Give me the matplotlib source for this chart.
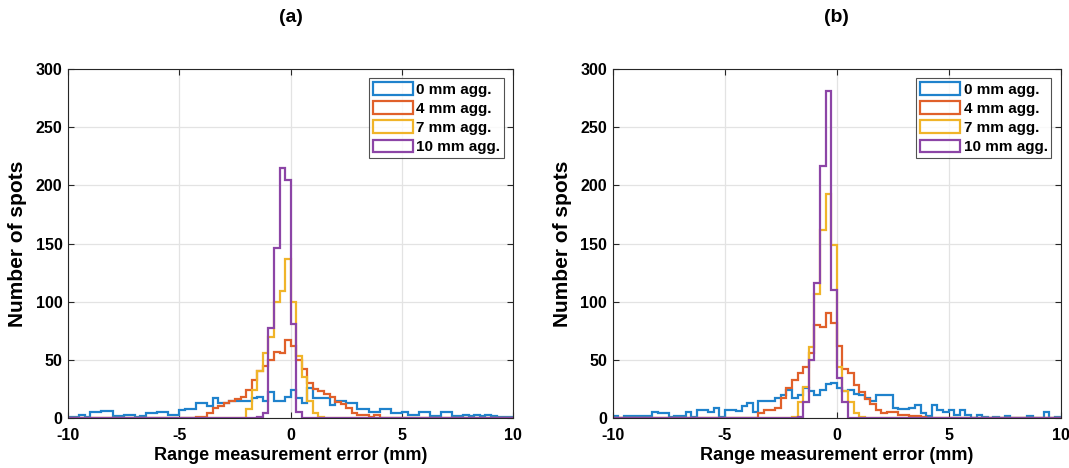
import numpy as np
import matplotlib
matplotlib.use("Agg")
from matplotlib import pyplot as plt

# bin edges: -10 .. 10 mm, 0.25 mm wide (80 bins)
edges = np.arange(-10, 10.001, 0.25)
labels = ['0 mm agg.', '4 mm agg.', '7 mm agg.', '10 mm agg.']
colors = ['#1f82cc', '#e0602a', '#f0b429', '#8c45a6']

# panel (a) counts, 8 bins (2 mm) per row
a_0mm = [1, 1, 3, 1, 5, 5, 6, 6,
         2, 2, 3, 3, 1, 2, 4, 4,
         5, 5, 3, 3, 7, 8, 8, 13,
         13, 10, 17, 13, 13, 15, 15, 15,
         15, 17, 18, 15, 22, 15, 15, 18,
         24, 17, 13, 26, 17, 17, 17, 11,
         15, 15, 13, 13, 8, 8, 5, 5,
         8, 8, 4, 4, 5, 3, 3, 5,
         5, 2, 2, 5, 5, 2, 2, 3,
         2, 3, 2, 3, 2, 1, 1, 1]
a_4mm = [0, 0, 0, 0, 0, 0, 0, 0,
         0, 0, 0, 0, 0, 0, 0, 0,
         0, 0, 0, 0, 0, 0, 0, 1,
         1, 4, 9, 10, 13, 15, 16, 18,
         24, 33, 40, 45, 50, 57, 56, 67,
         62, 50, 42, 30, 25, 23, 21, 18,
         14, 12, 9, 4, 3, 3, 1, 3,
         0, 0, 0, 0, 0, 0, 0, 0,
         0, 0, 0, 0, 0, 0, 0, 0,
         0, 0, 0, 0, 0, 0, 0, 0]
a_7mm = [0] * 32 + [8, 24, 40, 56, 70, 100, 109, 137,
                    100, 53, 35, 15, 4, 1, 0, 0] + [0] * 32
a_10mm = [0] * 32 + [0, 0, 1, 4, 77, 146, 215, 205,
                     81, 5, 0, 0, 0, 0, 0, 0] + [0] * 32

# panel (b) counts
b_0mm = [2, 0, 2, 2, 2, 2, 2, 5,
         4, 4, 1, 2, 2, 5, 1, 7,
         7, 5, 9, 1, 7, 7, 6, 10,
         13, 5, 15, 15, 15, 17, 20, 24,
         17, 20, 26, 23, 20, 24, 29, 30,
         26, 23, 24, 21, 20, 17, 15, 20,
         20, 20, 9, 8, 8, 9, 11, 4,
         2, 11, 7, 5, 7, 3, 7, 3,
         0, 3, 1, 0, 1, 0, 2, 0,
         0, 0, 2, 0, 0, 5, 0, 1]
b_4mm = [0] * 24 + [0, 0, 4, 7, 7, 9, 17, 26,
                    33, 39, 44, 56, 80, 78, 90, 82,
                    62, 42, 39, 28, 22, 16, 12, 7,
                    4, 5, 5, 3, 3, 2, 2, 1] + [0] * 24
b_7mm = [0] * 32 + [1, 14, 27, 61, 107, 162, 193, 149,
                    44, 23, 14, 4, 1, 0, 0, 0] + [0] * 32
b_10mm = [0] * 32 + [0, 1, 14, 50, 116, 217, 281, 110,
                     34, 14, 0, 0, 0, 0, 0, 0] + [0] * 32

plt.rcParams['font.family'] = ['Liberation Sans', 'DejaVu Sans']
plt.rcParams['font.weight'] = 'bold'
plt.rcParams['axes.unicode_minus'] = False

fig = plt.figure(figsize=(10.69, 4.68), dpi=100)
ax_a = fig.add_axes([0.0636, 0.1068, 0.4166, 0.7457])
ax_b = fig.add_axes([0.5732, 0.1068, 0.4190, 0.7457])

panels = [(ax_a, '(a)', [a_0mm, a_4mm, a_7mm, a_10mm]),
          (ax_b, '(b)', [b_0mm, b_4mm, b_7mm, b_10mm])]

for ax, title, series in panels:
    for counts, lab, col in zip(series, labels, colors):
        ax.hist(edges[:-1], bins=edges, weights=counts, histtype='step',
                color=col, linewidth=1.6, label=lab)
    ax.set_xlim(-10, 10)
    ax.set_ylim(0, 300)
    ax.set_xticks([-10, -5, 0, 5, 10])
    ax.set_yticks(range(0, 301, 50))
    ax.grid(True, color='#e3e3e3', linewidth=0.9)
    ax.set_axisbelow(True)
    ax.tick_params(direction='in', top=True, right=True, length=4,
                   labelsize=11.5, color='#262626')
    ax.tick_params(axis='x', pad=7)
    ax.tick_params(axis='y', pad=4)
    for s in ax.spines.values():
        s.set_color('#262626')
        s.set_linewidth(0.8)
    # xlabel sits right at the bottom edge, as in the source figure
    ax.set_xlabel('Range measurement error (mm)', fontsize=13,
                  fontweight='bold', labelpad=3)
    ax.set_ylabel('Number of spots', fontsize=15, fontweight='bold',
                  labelpad=6)
    ax.set_title(title, fontsize=14, fontweight='bold', pad=34)
    leg = ax.legend(loc='upper right', fontsize=11, frameon=True,
                    fancybox=False, edgecolor='#262626', borderpad=0.25,
                    labelspacing=0.3, handlelength=2.6, handleheight=0.9,
                    handletextpad=0.25, borderaxespad=0.6)
    leg.get_frame().set_linewidth(0.8)
    for t in leg.get_texts():
        t.set_fontweight('bold')

fig.savefig('out.png', dpi=100, facecolor='white')
